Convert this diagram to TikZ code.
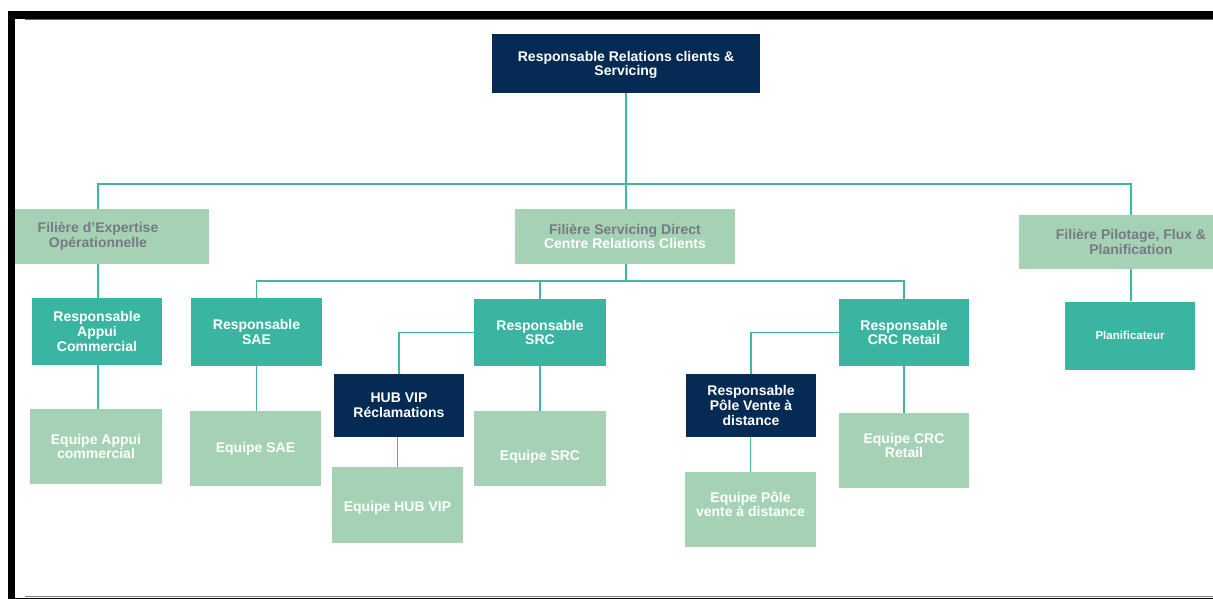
\documentclass[tikz,border=0pt]{standalone}
\usepackage{fontspec}
\setmainfont{Liberation Sans}
\definecolor{navy}{RGB}{5,43,85}
\definecolor{tealbox}{RGB}{57,181,162}
\definecolor{mint}{RGB}{165,210,180}
\definecolor{linkc}{RGB}{60,184,164}
\definecolor{fgrey}{RGB}{118,122,132}
\definecolor{rulec}{RGB}{88,104,128}
\tikzset{
  boxfont/.style={font=\bfseries\fontsize{14}{14.6}\selectfont},
  box/.style={rectangle, inner sep=0pt, align=center, text=white, boxfont},
  darkbox/.style={box, fill=navy},
  headbox/.style={box, fill=tealbox},
  teambox/.style={box, fill=mint},
  branchbox/.style={box, fill=mint, text=fgrey},
  % caption placed off the box centre by a vertical offset
  caption/.style 2 args={label={[boxfont, text=white, align=center, inner sep=0pt, yshift=#1]center:#2}},
  link/.style={draw=linkc, line width=1.8pt},
}
\begin{document}
\begin{tikzpicture}[x=1pt,y=-1pt]
\useasboundingbox (0,0) rectangle (1213,599);

% top level
\node[darkbox, minimum width=268, minimum height=59,
  caption={-1.5pt}{Responsable Relations clients \&\\Servicing}] (top) at (626,63.5) {};

% branches
\node[branchbox, minimum width=222, minimum height=55] (fexp) at (98,236.5)
  {Filière d’Expertise\\Opérationnelle};
\node[branchbox, minimum width=220, minimum height=55] (fserv) at (625,236.5)
  {Filière Servicing Direct\\\textcolor{white}{Centre Relations Clients}};
\node[branchbox, minimum width=224, minimum height=54] (fpil) at (1131,242)
  {Filière Pilotage, Flux \&\\Planification};

% expertise branch
\node[headbox, minimum width=130, minimum height=67] (rapp) at (97,331.5)
  {Responsable\\Appui\\Commercial};
\node[teambox, minimum width=132, minimum height=75] (eapp) at (96,446.5)
  {Equipe Appui\\commercial};

% servicing branch
\node[headbox, minimum width=131, minimum height=68] (rsae) at (256.5,332)
  {Responsable\\SAE};
\node[teambox, minimum width=131, minimum height=75] (esae) at (255.5,448.5)
  {Equipe SAE};
\node[headbox, minimum width=132, minimum height=67] (rsrc) at (540,332.5)
  {Responsable\\SRC};
\node[teambox, minimum width=132, minimum height=75,
  caption={-8pt}{Equipe SRC}] (esrc) at (540,448.5) {};
\node[darkbox, minimum width=130, minimum height=63] (hub) at (399,405.5)
  {HUB VIP\\Réclamations};
\node[teambox, minimum width=131, minimum height=76,
  caption={-3pt}{Equipe HUB VIP}] (ehub) at (397.5,505) {};
\node[headbox, minimum width=130, minimum height=67] (rcrc) at (904,332.5)
  {Responsable\\CRC Retail};
\node[teambox, minimum width=130, minimum height=75,
  caption={5pt}{Equipe CRC\\Retail}] (ecrc) at (904,450.5) {};
\node[darkbox, minimum width=130, minimum height=63] (rpole) at (751,405.5)
  {Responsable\\Pôle Vente à\\distance};
\node[teambox, minimum width=131, minimum height=75,
  caption={5pt}{Equipe Pôle\\vente à distance}] (epole) at (750.5,509.5) {};

% planning branch
\node[headbox, minimum width=130, minimum height=68,
  font=\bfseries\fontsize{11.5}{12}\selectfont] (plan) at (1130,335.5)
  {Planificateur};

% connectors
\coordinate (bar1) at (626,184);
\coordinate (bar2) at (626,281);
\draw[link] (top.south) -- (bar1);
\draw[link] (bar1) -| (fexp.north);
\draw[link] (bar1) -| (fpil.north);
\draw[link] (bar1) -- (bar1 |- fserv.north);
\draw[link] (bar1 |- fserv.south) -- (bar2);
\draw[link] (bar2) -| (rsae.north);
\draw[link] (bar2) -| (rsrc.north);
\draw[link] (bar2) -| (rcrc.north);
\draw[link] (fexp.south) -- (fexp.south |- rapp.north);
\draw[link] (fexp.south |- rapp.south) -- (fexp.south |- eapp.north);
\draw[link] (rsae.south) -- (rsae.south |- esae.north);
\draw[link] (rsrc.south) -- (rsrc.south |- esrc.north);
\draw[link] (rsrc.west) -| (hub.north);
\draw[link] (hub.south -| ehub.north) -- (ehub.north);
\draw[link] (rcrc.south) -- (ecrc.north);
\draw[link] (rcrc.west) -| (rpole.north);
\draw[link] (rpole.south -| epole.north) -- (epole.north);
\draw[link] (fpil.south) -- (fpil.south |- plan.north);

% page frame
\fill[white] (0,0) rectangle (8,599);
\fill[white] (0,0) rectangle (1213,11);
\fill[black] (8,11) rectangle (1213,19);
\fill[black] (8,11) rectangle (15,599);
\fill[black] (8,597.5) rectangle (1213,599);
\draw[rulec, line width=1pt] (25,19.5) -- (1213,19.5);
\draw[gray, line width=1pt] (25,596.5) -- (1213,596.5);
\end{tikzpicture}
\end{document}
